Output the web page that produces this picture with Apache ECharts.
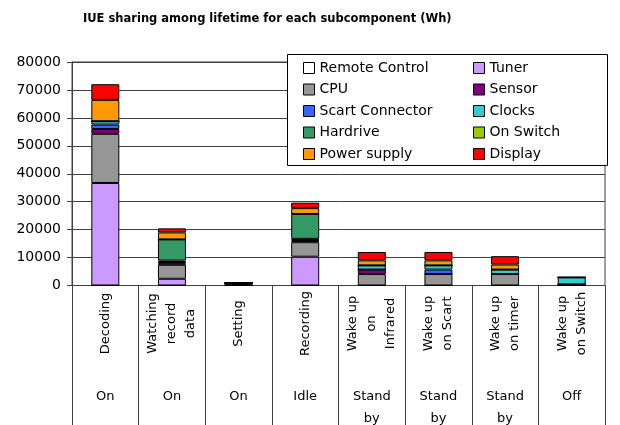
<!DOCTYPE html>
<html>
<head>
<meta charset="utf-8">
<script src="https://cdn.jsdelivr.net/npm/echarts@6/dist/echarts.min.js"></script>
<style>
  html, body { margin: 0; padding: 0; background: #fff; }
  #chart { width: 620px; height: 425px; }
</style>
</head>
<body>
<div id="chart"></div>
<script>
// 类别 / modes
const modes = ['Decoding', 'Watching\nrecord\ndata', 'Setting', 'Recording',
  'Wake up\non\nInfrared', 'Wake up\non Scart', 'Wake up\non timer', 'Wake up\non Switch']
const states = ['On', 'On', 'On', 'Idle', 'Stand\nby', 'Stand\nby', 'Stand\nby', 'Off']
const yTicks = [0, 10000, 20000, 30000, 40000, 50000, 60000, 70000, 80000]

// values per subcomponent (Wh), one entry per mode
const remoteControl = [0, 0, 0, 0, 0, 0, 0, 0]
const tuner = [36700, 2400, 0, 10300, 0, 0, 0, 0]
const cpu = [17600, 5000, 600, 5200, 4100, 4100, 4100, 400]
const sensor = [1700, 600, 100, 500, 1600, 0, 0, 0]
const scart = [1600, 400, 100, 300, 0, 1600, 0, 0]
const clocks = [1200, 500, 100, 400, 1500, 1500, 1600, 2500]
const hardrive = [0, 7600, 0, 8900, 0, 0, 0, 0]
const onSwitch = [0, 0, 0, 0, 0, 0, 0, 0]
const powerSupply = [7650, 2500, 100, 2100, 1800, 1800, 1800, 0]
const display = [5600, 1450, 100, 1950, 3000, 3000, 3000, 0]

const seriesDefs = [
  { name: 'Remote Control', data: remoteControl, color: '#FFFFFF' },
  { name: 'Tuner', data: tuner, color: '#CC99FF' },
  { name: 'CPU', data: cpu, color: '#969696' },
  { name: 'Sensor', data: sensor, color: '#800080' },
  { name: 'Scart Connector', data: scart, color: '#3366FF' },
  { name: 'Clocks', data: clocks, color: '#33CCCC' },
  { name: 'Hardrive', data: hardrive, color: '#339966' },
  { name: 'On Switch', data: onSwitch, color: '#99CC00' },
  { name: 'Power supply', data: powerSupply, color: '#FF9900' },
  { name: 'Display', data: display, color: '#FF0000' }
]

const font = 'DejaVu Sans'
const chart = echarts.init(document.getElementById('chart'))

const legendBase = {
  orient: 'vertical',
  top: 61,
  padding: 0,
  itemWidth: 11,
  itemHeight: 11,
  itemGap: 7.5,
  icon: 'rect',
  selectedMode: false,
  itemStyle: { borderColor: '#000', borderWidth: 1 },
  textStyle: { fontFamily: font, fontSize: 14, color: '#000', lineHeight: 14 }
}

chart.setOption({
  animation: false,
  title: {
    text: 'IUE sharing among lifetime for each subcomponent (Wh)',
    left: 83,
    top: 13,
    padding: 0,
    textStyle: { fontFamily: font, fontSize: 11.5, fontWeight: 'bold', color: '#000' }
  },
  graphic: [{
    type: 'rect',
    z: 3,
    shape: { x: 287.5, y: 54.5, width: 320, height: 111 },
    style: { fill: '#fff', stroke: '#000', lineWidth: 1 }
  }],
  legend: [
    Object.assign({}, legendBase, {
      left: 303,
      data: ['Remote Control', 'CPU', 'Scart Connector', 'Hardrive', 'Power supply']
    }),
    Object.assign({}, legendBase, {
      left: 473,
      data: ['Tuner', 'Sensor', 'Clocks', 'On Switch', 'Display']
    })
  ],
  grid: {
    left: 72, right: 15, top: 62, bottom: 139.5,
    outerBoundsMode: 'none',
    containLabel: false,
    show: true, borderColor: '#404040', borderWidth: 1
  },
  xAxis: [{
    type: 'category',
    data: modes,
    boundaryGap: true,
    axisLine: { show: true, lineStyle: { color: '#404040' } },
    axisTick: { show: true, interval: 0, alignWithLabel: false, length: 140, lineStyle: { color: '#404040', width: 1 } },
    axisLabel: {
      rotate: 90,
      align: 'center',
      verticalAlign: 'middle',
      margin: 38,
      interval: 0,
      fontFamily: font,
      fontSize: 13,
      lineHeight: 19,
      color: '#000'
    }
  }, {
    type: 'category',
    position: 'bottom',
    data: states,
    axisLine: { show: false },
    axisTick: { show: false },
    axisLabel: {
      margin: 100,
      interval: 0,
      fontFamily: font,
      fontSize: 13,
      lineHeight: 22,
      color: '#000'
    }
  }],
  yAxis: {
    type: 'value',
    min: yTicks[0],
    max: yTicks[yTicks.length - 1],
    interval: yTicks[1] - yTicks[0],
    axisLine: { show: true, lineStyle: { color: '#404040' } },
    axisTick: { show: true, length: 5, lineStyle: { color: '#404040' } },
    splitLine: { lineStyle: { color: '#404040' } },
    axisLabel: { fontFamily: font, fontSize: 14, color: '#000', margin: 11, formatter: v => String(v) }
  },
  series: seriesDefs.map(s => ({
    name: s.name,
    type: 'bar',
    stack: 'total',
    xAxisIndex: 0,
    barWidth: 28,
    data: s.data,
    itemStyle: { color: s.color, borderColor: '#000', borderWidth: 1 }
  }))
})
</script>
</body>
</html>
